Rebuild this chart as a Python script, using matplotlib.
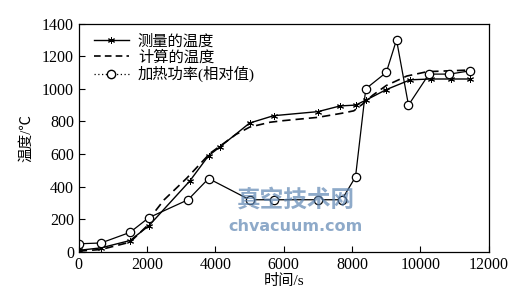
import matplotlib
matplotlib.use('Agg')
import matplotlib.pyplot as plt
from matplotlib.lines import Line2D

plt.rcParams['font.family'] = ['Liberation Serif', 'Noto Sans CJK SC']

# measured temperature
t_meas = [0, 650, 1500, 2050, 3250, 3800, 4140, 5000, 5700, 7000, 7650, 8100,
          8400, 9000, 9700, 10300, 10900, 11450]
T_meas = [10, 25, 70, 160, 435, 590, 645, 790, 835, 860, 895, 900,
          930, 995, 1055, 1060, 1060, 1060]

# calculated temperature
t_calc = [0, 650, 1500, 2000, 2200, 2500, 3160, 3845, 4140, 4600, 5000, 5600,
          6000, 7000, 7700, 8050, 8300, 8600, 9000, 9600, 10200, 11450]
T_calc = [5, 15, 60, 160, 240, 320, 452, 605, 650, 720, 765, 795,
          805, 825, 850, 865, 905, 960, 1020, 1078, 1105, 1115]

# heating power (relative)
t_pow = [0, 650, 1500, 2050, 3200, 3800, 5000, 5700, 7000, 7700, 8100, 8400,
         9000, 9300, 9650, 10250, 10850, 11450]
P_pow = [50, 55, 120, 210, 320, 450, 320, 320, 320, 320, 460, 1000,
         1100, 1300, 900, 1090, 1090, 1110]

fig = plt.figure(figsize=(5.25, 2.94), dpi=100)
ax = fig.add_axes([0.150, 0.143, 0.781, 0.777])

ax.plot(t_meas, T_meas, color='black', lw=1.0, marker=(6, 2, 0), ms=5, mew=0.7)
ax.plot(t_calc, T_calc, color='black', lw=1.2, ls=(0, (5, 3)))
ax.plot(t_pow, P_pow, color='black', lw=0.9, marker='o', ms=6,
        mfc='white', mec='black', mew=0.9)

ax.set_xlim(0, 12000)
ax.set_ylim(0, 1400)
ax.set_xticks(range(0, 12001, 2000))
ax.set_yticks(range(0, 1401, 200))
ax.tick_params(direction='in', labelsize=11.5, length=4, width=0.8)
for s in ax.spines.values():
    s.set_linewidth(0.9)

ax.set_xlabel('时间/s', fontsize=11, labelpad=1)
ax.set_ylabel('温度/℃', fontsize=10.5, labelpad=6)

handles = [
    Line2D([], [], color='black', lw=1.0, marker=(6, 2, 0), ms=5, mew=0.7),
    Line2D([], [], color='black', lw=1.2, ls=(0, (4, 2.5))),
    Line2D([], [], color='black', lw=0.9, ls=(0, (1, 2)), marker='o', ms=6,
           mfc='white', mec='black'),
]
labels = ['测量的温度', '计算的温度', '加热功率(相对值)']
ax.legend(handles, labels, loc='upper left', frameon=False, fontsize=11,
          handlelength=2.3, handletextpad=0.6, labelspacing=0.1,
          borderaxespad=0.3, bbox_to_anchor=(0.01, 1.0))

# site watermark
fig.text(0.563, 0.32, '真空技术网', fontsize=17, color='#5f86b3', alpha=0.7,
         ha='center', va='center', fontweight='bold', family='Noto Sans CJK SC')
fig.text(0.563, 0.23, 'chvacuum.com', fontsize=11.5, color='#5f86b3', alpha=0.7,
         ha='center', va='center', fontweight='bold', family='DejaVu Sans')

fig.savefig('out.png', dpi=100)
